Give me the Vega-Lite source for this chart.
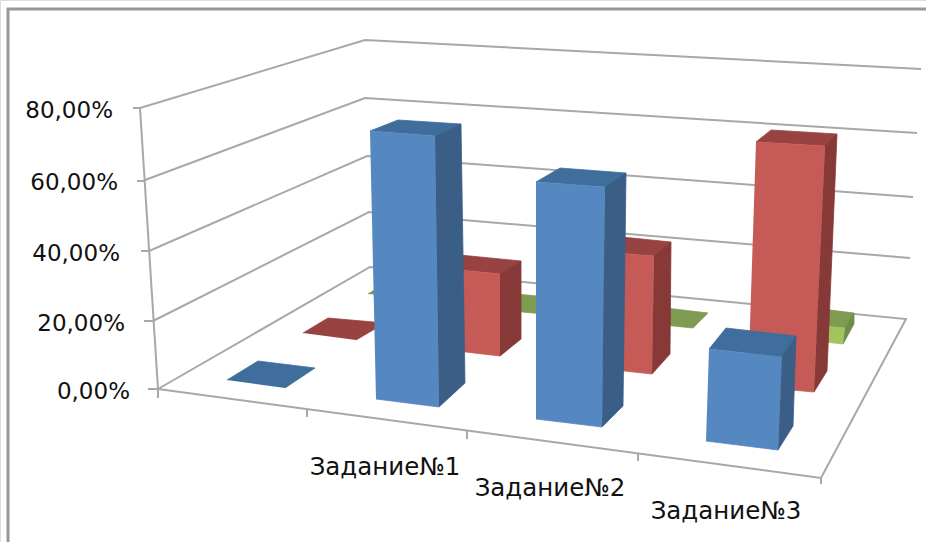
{
"$schema":"https://vega.github.io/schema/vega-lite/v6.json",
"width":926,"height":542,"padding":0,"autosize":{"type":"none"},
"background":"white",
"datasets":{
"lines":[
{"id":"frame","n":0,"px":8,"py":542,"w":"frame"},{"id":"frame","n":1,"px":8,"py":9,"w":"frame"},{"id":"frame","n":2,"px":926,"py":9,"w":"frame"},
{"id":"g80","n":0,"px":140,"py":108,"w":"axis"},{"id":"g80","n":1,"px":365,"py":40,"w":"axis"},{"id":"g80","n":2,"px":921,"py":69,"w":"axis"},
{"id":"g60","n":0,"px":145,"py":180,"w":"axis"},{"id":"g60","n":1,"px":365,"py":98,"w":"axis"},{"id":"g60","n":2,"px":917,"py":133,"w":"axis"},
{"id":"g40","n":0,"px":149,"py":251,"w":"axis"},{"id":"g40","n":1,"px":367,"py":156,"w":"axis"},{"id":"g40","n":2,"px":913,"py":197,"w":"axis"},
{"id":"g20","n":0,"px":153,"py":321,"w":"axis"},{"id":"g20","n":1,"px":369,"py":212,"w":"axis"},{"id":"g20","n":2,"px":910,"py":258,"w":"axis"},
{"id":"floor","n":0,"px":158,"py":389,"w":"axis"},{"id":"floor","n":1,"px":370,"py":267,"w":"axis"},{"id":"floor","n":2,"px":906,"py":319,"w":"axis"},{"id":"floor","n":3,"px":821,"py":478,"w":"axis"},{"id":"floor","n":4,"px":158,"py":389,"w":"axis"},
{"id":"yaxis","n":0,"px":140,"py":108,"w":"axis"},{"id":"yaxis","n":1,"px":158,"py":389,"w":"axis"},
{"id":"t80","n":0,"px":133,"py":108,"w":"axis"},{"id":"t80","n":1,"px":140,"py":108,"w":"axis"},
{"id":"t60","n":0,"px":137,"py":181,"w":"axis"},{"id":"t60","n":1,"px":145,"py":181,"w":"axis"},
{"id":"t40","n":0,"px":141,"py":251,"w":"axis"},{"id":"t40","n":1,"px":149,"py":251,"w":"axis"},
{"id":"t20","n":0,"px":144,"py":321,"w":"axis"},{"id":"t20","n":1,"px":153,"py":321,"w":"axis"},
{"id":"t0","n":0,"px":148,"py":389,"w":"axis"},{"id":"t0","n":1,"px":158,"py":389,"w":"axis"},
{"id":"x0","n":0,"px":158,"py":389,"w":"axis"},{"id":"x0","n":1,"px":158,"py":398,"w":"axis"},
{"id":"x1","n":0,"px":307,"py":409,"w":"axis"},{"id":"x1","n":1,"px":307,"py":417,"w":"axis"},
{"id":"x2","n":0,"px":467,"py":431,"w":"axis"},{"id":"x2","n":1,"px":467,"py":439,"w":"axis"},
{"id":"x3","n":0,"px":638,"py":453,"w":"axis"},{"id":"x3","n":1,"px":638,"py":461,"w":"axis"},
{"id":"x4","n":0,"px":821,"py":478,"w":"axis"},{"id":"x4","n":1,"px":821,"py":484,"w":"axis"}
],
"faces":[
{"face":"g0","part":"green top","n":0,"px":368,"py":294},{"face":"g0","part":"green top","n":1,"px":385,"py":283},{"face":"g0","part":"green top","n":2,"px":430,"py":287},{"face":"g0","part":"green top","n":3,"px":415,"py":298},
{"face":"g1","part":"green top","n":0,"px":505,"py":293},{"face":"g1","part":"green top","n":1,"px":570,"py":299},{"face":"g1","part":"green top","n":2,"px":555,"py":315},{"face":"g1","part":"green top","n":3,"px":490,"py":309},
{"face":"g2","part":"green top","n":0,"px":640,"py":305},{"face":"g2","part":"green top","n":1,"px":708,"py":313},{"face":"g2","part":"green top","n":2,"px":693,"py":328},{"face":"g2","part":"green top","n":3,"px":625,"py":321},
{"face":"g3t","part":"green top","n":0,"px":790,"py":305},{"face":"g3t","part":"green top","n":1,"px":854,"py":313},{"face":"g3t","part":"green top","n":2,"px":845,"py":328},{"face":"g3t","part":"green top","n":3,"px":790,"py":323},
{"face":"g3f","part":"green front","n":0,"px":790,"py":323},{"face":"g3f","part":"green front","n":1,"px":845,"py":328},{"face":"g3f","part":"green front","n":2,"px":843,"py":344},{"face":"g3f","part":"green front","n":3,"px":790,"py":338},
{"face":"g3s","part":"green side","n":0,"px":845,"py":328},{"face":"g3s","part":"green side","n":1,"px":854,"py":313},{"face":"g3s","part":"green side","n":2,"px":854,"py":324},{"face":"g3s","part":"green side","n":3,"px":843,"py":344},
{"face":"r0","part":"red top","n":0,"px":303,"py":333},{"face":"r0","part":"red top","n":1,"px":328,"py":318},{"face":"r0","part":"red top","n":2,"px":385,"py":323},{"face":"r0","part":"red top","n":3,"px":356,"py":340},
{"face":"r1t","part":"red top","n":0,"px":440,"py":268},{"face":"r1t","part":"red top","n":1,"px":460,"py":255},{"face":"r1t","part":"red top","n":2,"px":521,"py":261},{"face":"r1t","part":"red top","n":3,"px":500,"py":274},
{"face":"r1f","part":"red front","n":0,"px":440,"py":268},{"face":"r1f","part":"red front","n":1,"px":500,"py":274},{"face":"r1f","part":"red front","n":2,"px":500,"py":356},{"face":"r1f","part":"red front","n":3,"px":440,"py":349},
{"face":"r1s","part":"red side","n":0,"px":500,"py":274},{"face":"r1s","part":"red side","n":1,"px":521,"py":261},{"face":"r1s","part":"red side","n":2,"px":521,"py":339},{"face":"r1s","part":"red side","n":3,"px":500,"py":356},
{"face":"r2t","part":"red top","n":0,"px":590,"py":251},{"face":"r2t","part":"red top","n":1,"px":612,"py":236},{"face":"r2t","part":"red top","n":2,"px":671,"py":242},{"face":"r2t","part":"red top","n":3,"px":654,"py":256},
{"face":"r2f","part":"red front","n":0,"px":590,"py":251},{"face":"r2f","part":"red front","n":1,"px":654,"py":256},{"face":"r2f","part":"red front","n":2,"px":652,"py":374},{"face":"r2f","part":"red front","n":3,"px":588,"py":367},
{"face":"r2s","part":"red side","n":0,"px":654,"py":256},{"face":"r2s","part":"red side","n":1,"px":671,"py":242},{"face":"r2s","part":"red side","n":2,"px":670,"py":354},{"face":"r2s","part":"red side","n":3,"px":652,"py":374},
{"face":"r3t","part":"red top","n":0,"px":756,"py":142},{"face":"r3t","part":"red top","n":1,"px":771,"py":130},{"face":"r3t","part":"red top","n":2,"px":837,"py":134},{"face":"r3t","part":"red top","n":3,"px":825,"py":146},
{"face":"r3f","part":"red front","n":0,"px":756,"py":142},{"face":"r3f","part":"red front","n":1,"px":825,"py":146},{"face":"r3f","part":"red front","n":2,"px":814,"py":392},{"face":"r3f","part":"red front","n":3,"px":748,"py":386},
{"face":"r3s","part":"red side","n":0,"px":825,"py":146},{"face":"r3s","part":"red side","n":1,"px":837,"py":134},{"face":"r3s","part":"red side","n":2,"px":827,"py":371},{"face":"r3s","part":"red side","n":3,"px":814,"py":392},
{"face":"b0","part":"blue top","n":0,"px":227,"py":380},{"face":"b0","part":"blue top","n":1,"px":258,"py":361},{"face":"b0","part":"blue top","n":2,"px":315,"py":368},{"face":"b0","part":"blue top","n":3,"px":285,"py":388},
{"face":"b1t","part":"blue top","n":0,"px":370,"py":131},{"face":"b1t","part":"blue top","n":1,"px":398,"py":120},{"face":"b1t","part":"blue top","n":2,"px":461,"py":124},{"face":"b1t","part":"blue top","n":3,"px":435,"py":136},
{"face":"b1f","part":"blue front","n":0,"px":370,"py":131},{"face":"b1f","part":"blue front","n":1,"px":435,"py":136},{"face":"b1f","part":"blue front","n":2,"px":439,"py":407},{"face":"b1f","part":"blue front","n":3,"px":376,"py":399},
{"face":"b1s","part":"blue side","n":0,"px":435,"py":136},{"face":"b1s","part":"blue side","n":1,"px":461,"py":124},{"face":"b1s","part":"blue side","n":2,"px":465,"py":383},{"face":"b1s","part":"blue side","n":3,"px":439,"py":407},
{"face":"b2t","part":"blue top","n":0,"px":536,"py":182},{"face":"b2t","part":"blue top","n":1,"px":560,"py":168},{"face":"b2t","part":"blue top","n":2,"px":626,"py":173},{"face":"b2t","part":"blue top","n":3,"px":605,"py":187},
{"face":"b2f","part":"blue front","n":0,"px":536,"py":182},{"face":"b2f","part":"blue front","n":1,"px":605,"py":187},{"face":"b2f","part":"blue front","n":2,"px":602,"py":427},{"face":"b2f","part":"blue front","n":3,"px":536,"py":419},
{"face":"b2s","part":"blue side","n":0,"px":605,"py":187},{"face":"b2s","part":"blue side","n":1,"px":626,"py":173},{"face":"b2s","part":"blue side","n":2,"px":623,"py":406},{"face":"b2s","part":"blue side","n":3,"px":602,"py":427},
{"face":"b3t","part":"blue top","n":0,"px":709,"py":349},{"face":"b3t","part":"blue top","n":1,"px":726,"py":328},{"face":"b3t","part":"blue top","n":2,"px":796,"py":336},{"face":"b3t","part":"blue top","n":3,"px":782,"py":357},
{"face":"b3f","part":"blue front","n":0,"px":709,"py":349},{"face":"b3f","part":"blue front","n":1,"px":782,"py":357},{"face":"b3f","part":"blue front","n":2,"px":778,"py":450},{"face":"b3f","part":"blue front","n":3,"px":706,"py":441},
{"face":"b3s","part":"blue side","n":0,"px":782,"py":357},{"face":"b3s","part":"blue side","n":1,"px":796,"py":336},{"face":"b3s","part":"blue side","n":2,"px":793,"py":426},{"face":"b3s","part":"blue side","n":3,"px":778,"py":450}
],
"valueLabels":[
{"label":"80,00%","px":113,"py":111},{"label":"60,00%","px":118,"py":183},{"label":"40,00%","px":120,"py":254},{"label":"20,00%","px":125,"py":324},{"label":"0,00%","px":130,"py":392}
],
"taskLabels":[
{"label":"Задание№1","px":385,"py":468},{"label":"Задание№2","px":550,"py":489},{"label":"Задание№3","px":726,"py":512}
]
},
"encoding":{
"x":{"field":"px","type":"quantitative","axis":null,"scale":{"domain":[0,926],"nice":false,"zero":false}},
"y":{"field":"py","type":"quantitative","axis":null,"scale":{"domain":[542,0],"nice":false,"zero":false}}
},
"resolve":{"scale":{"color":"independent","stroke":"independent"}},
"layer":[
{"data":{"name":"lines"},
 "mark":{"type":"line","interpolate":"linear","clip":false},
 "encoding":{
  "detail":{"field":"id"},
  "order":{"field":"n","type":"ordinal"},
  "strokeWidth":{"field":"w","type":"nominal","legend":null,"scale":{"domain":["frame","axis"],"range":[3,2]}},
  "color":{"field":"w","type":"nominal","legend":null,"scale":{"domain":["frame","axis"],"range":["#989898","#a8a8a8"]}}
 }},
{"data":{"name":"faces"},
 "mark":{"type":"line","filled":true,"strokeWidth":0.8},
 "encoding":{
  "detail":{"field":"face"},
  "order":{"field":"n","type":"ordinal"},
  "fill":{"field":"part","type":"nominal","legend":null,"scale":{
   "domain":["blue front","blue top","blue side","red front","red top","red side","green front","green top","green side"],
   "range":["#5587c1","#406e9c","#3b5e87","#c55a57","#984341","#873938","#a0c45e","#7f9b52","#6f8c49"]}},
  "stroke":{"field":"part","type":"nominal","legend":null,"scale":{
   "domain":["blue front","blue top","blue side","red front","red top","red side","green front","green top","green side"],
   "range":["#5587c1","#406e9c","#3b5e87","#c55a57","#984341","#873938","#a0c45e","#7f9b52","#6f8c49"]}}
 }},
{"data":{"name":"valueLabels"},
 "mark":{"type":"text","font":"DejaVu Sans","fontSize":23,"align":"right","baseline":"middle","color":"#111111"},
 "encoding":{"text":{"field":"label"}}},
{"data":{"name":"taskLabels"},
 "mark":{"type":"text","font":"DejaVu Sans","fontSize":24.5,"align":"center","baseline":"middle","color":"#111111"},
 "encoding":{"text":{"field":"label"}}}
]
}
